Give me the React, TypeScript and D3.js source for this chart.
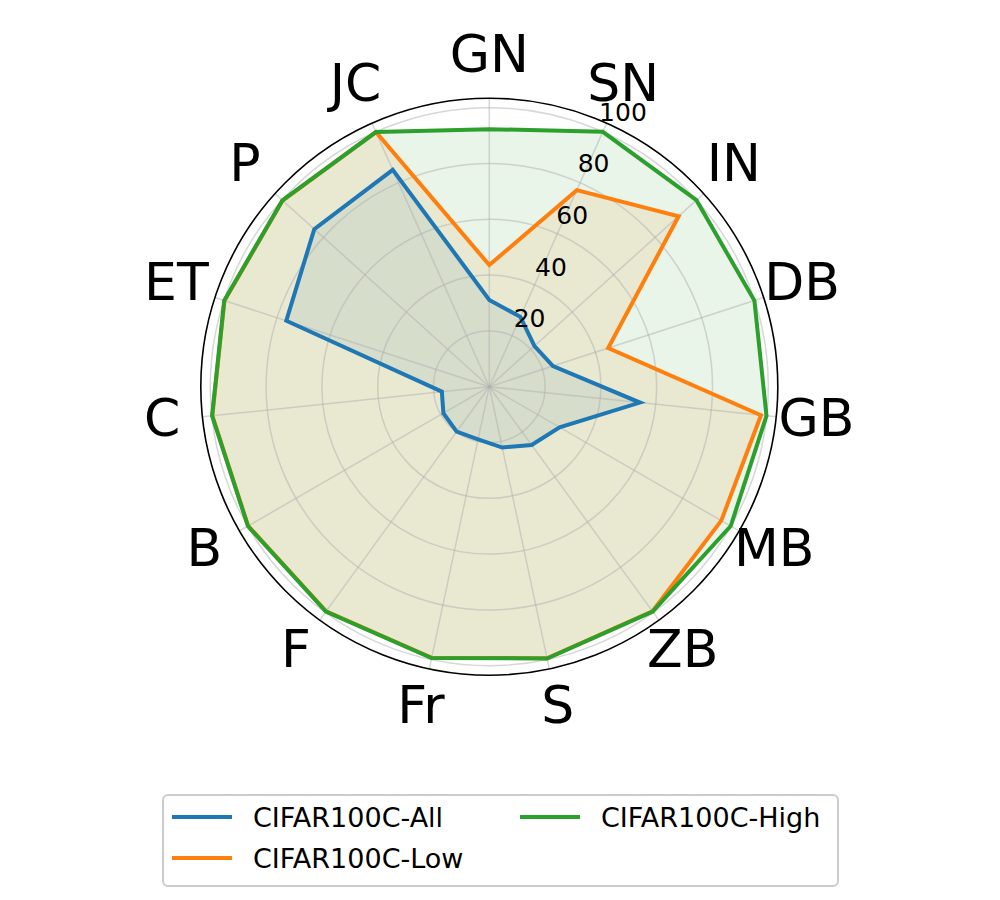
import React from 'react';
import * as d3 from 'd3';

const categories = ['GN', 'SN', 'IN', 'DB', 'GB', 'MB', 'ZB', 'S', 'Fr', 'F', 'B', 'C', 'ET', 'P', 'JC'];
const allValues = [31.1, 27.4, 21.8, 24.0, 54.3, 29.1, 25.8, 22.3, 19.3, 19.9, 19.0, 17.1, 76.5, 84.4, 85.1];
const lowValues = [43.6, 77.1, 91.3, 44.8, 97.9, 96.0, 99.5, 99.5, 99.3, 99.5, 99.8, 99.8, 99.8, 99.7, 99.9];
const highValues = [92.3, 100, 99.9, 99.9, 99.9, 99.9, 99.6, 99.6, 99.4, 99.6, 99.9, 99.9, 99.9, 99.8, 99.9];
const radialTicks = [20, 40, 60, 80, 100];

const series = [
  { name: 'CIFAR100C-All', values: allValues, color: '#1f77b4' },
  { name: 'CIFAR100C-Low', values: lowValues, color: '#ff7f0e' },
  { name: 'CIFAR100C-High', values: highValues, color: '#2ca02c' },
];

const width = 1000;
const height = 900;
const cx = 489.3;
const cy = 386.7;
const outerR = 288.5;
const font = '"DejaVu Sans", Verdana, sans-serif';

const App: React.FC = () => {
  const rScale = d3.scaleLinear().domain([0, 103.4]).range([0, outerR]);
  const angle = d3.scaleLinear().domain([0, categories.length]).range([0, 2 * Math.PI]);

  const radar = d3.lineRadial<number>()
    .angle((_, i) => angle(i))
    .radius(d => rScale(d))
    .curve(d3.curveLinearClosed);

  const pt = (a: number, r: number) => [r * Math.sin(a), -r * Math.cos(a)];

  // legend layout
  const legendItems = [
    { s: series[0], x: 172, y: 817 },
    { s: series[1], x: 172, y: 858 },
    { s: series[2], x: 520, y: 817 },
  ];

  return (
    <svg width={width} height={height} style={{ position: 'absolute', left: 0, top: 0, background: '#fff' }} fontFamily={font}>
      <g transform={`translate(${cx},${cy})`}>
        {/* fills */}
        {series.map(s => (
          <path key={s.name + '-fill'} d={radar(s.values) || ''} fill={s.color} fillOpacity={0.1} stroke="none" />
        ))}

        {/* grid */}
        <g stroke="#b0b0b0" strokeOpacity={0.5} strokeWidth={1.5} fill="none">
          {radialTicks.map(t => (
            <circle key={t} r={rScale(t)} />
          ))}
          {categories.map((c, i) => {
            const [x, y] = pt(angle(i), outerR);
            return <line key={c} x1={0} y1={0} x2={x} y2={y} />;
          })}
        </g>

        {/* lines */}
        {series.map(s => (
          <path key={s.name + '-line'} d={radar(s.values) || ''} fill="none" stroke={s.color} strokeWidth={4} strokeLinejoin="miter" />
        ))}

        {/* outer spine */}
        <circle r={outerR} fill="none" stroke="#000" strokeWidth={1.6} />

        {/* radial tick labels */}
        {radialTicks.map(t => {
          const [x, y] = pt(Math.PI / 8, rScale(t));
          return (
            <text key={t} x={x + 3} y={y - 8} fontSize={25} fill="#000">{t}</text>
          );
        })}

        {/* category labels */}
        {categories.map((c, i) => {
          const [x, y] = pt(angle(i), 329);
          return (
            <text key={c} x={x} y={y} dy="0.28em" textAnchor="middle" fontSize={52} fill="#000">{c}</text>
          );
        })}
      </g>

      {/* legend */}
      <rect x={163} y={795} width={675} height={91} rx={5} fill="#fff" fillOpacity={0.8} stroke="#cccccc" strokeWidth={2} />
      {legendItems.map(({ s, x, y }) => (
        <g key={s.name}>
          <line x1={x} x2={x + 60} y1={y} y2={y} stroke={s.color} strokeWidth={4} />
          <text x={x + 81} y={y} dy="0.36em" fontSize={27} fill="#000">{s.name}</text>
        </g>
      ))}
    </svg>
  );
};

export default App;
